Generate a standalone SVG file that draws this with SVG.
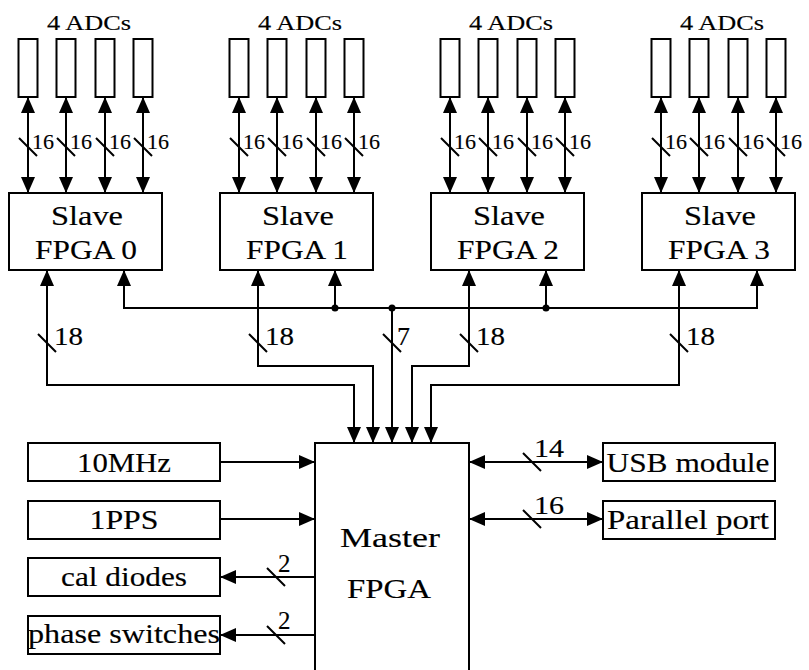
<svg xmlns="http://www.w3.org/2000/svg" width="809" height="670" viewBox="0 0 809 670">
<style>
  .box { fill: #fff; stroke: #000; stroke-width: 2; }
  .ln { fill: none; stroke: #000; stroke-width: 2; }
  .both { marker-start: url(#ah); marker-end: url(#ah); }
  .end { marker-end: url(#ah); }
  .t { font-family: "Liberation Serif", "Times New Roman", serif; fill: #000; stroke: #000; stroke-width: 0.15; }
  .big { font-size: 28px; text-anchor: middle; }
  .adc { font-size: 20px; text-anchor: middle; }
  .s16 { font-size: 22px; }
  .s18 { font-size: 26px; }
  .s2 { font-size: 25px; }
</style>
<defs>
  <marker id="ah" viewBox="0 0 16 14" refX="16" refY="7" markerWidth="16" markerHeight="14" markerUnits="userSpaceOnUse" orient="auto-start-reverse">
    <path d="M0,0 L16,7 L0,14 z" fill="#000"/>
  </marker>
</defs>
<rect width="809" height="670" fill="#fff"/>

<g id="connectors">
  <g id="adc-links">
    <path class="ln both" d="M28,97 V193"/><path class="ln both" d="M66,97 V193"/><path class="ln both" d="M105,97 V193"/><path class="ln both" d="M143,97 V193"/>
    <path class="ln both" d="M239,97 V193"/><path class="ln both" d="M277,97 V193"/><path class="ln both" d="M316,97 V193"/><path class="ln both" d="M354,97 V193"/>
    <path class="ln both" d="M450,97 V193"/><path class="ln both" d="M488,97 V193"/><path class="ln both" d="M527,97 V193"/><path class="ln both" d="M565,97 V193"/>
    <path class="ln both" d="M661,97 V193"/><path class="ln both" d="M699,97 V193"/><path class="ln both" d="M738,97 V193"/><path class="ln both" d="M776,97 V193"/>
    <path class="ln" d="M19,138 L37,156 M57,138 L75,156 M96,138 L114,156 M134,138 L152,156"/>
    <path class="ln" d="M230,138 L248,156 M268,138 L286,156 M307,138 L325,156 M345,138 L363,156"/>
    <path class="ln" d="M441,138 L459,156 M479,138 L497,156 M518,138 L536,156 M556,138 L574,156"/>
    <path class="ln" d="M652,138 L670,156 M690,138 L708,156 M729,138 L747,156 M767,138 L785,156"/>
    <text class="t s16" x="32" y="149">16</text>
    <text class="t s16" x="70" y="149">16</text>
    <text class="t s16" x="109" y="149">16</text>
    <text class="t s16" x="147" y="149">16</text>
    <text class="t s16" x="243" y="149">16</text>
    <text class="t s16" x="281" y="149">16</text>
    <text class="t s16" x="320" y="149">16</text>
    <text class="t s16" x="358" y="149">16</text>
    <text class="t s16" x="454" y="149">16</text>
    <text class="t s16" x="492" y="149">16</text>
    <text class="t s16" x="531" y="149">16</text>
    <text class="t s16" x="569" y="149">16</text>
    <text class="t s16" x="665" y="149">16</text>
    <text class="t s16" x="703" y="149">16</text>
    <text class="t s16" x="742" y="149">16</text>
    <text class="t s16" x="780" y="149">16</text>
  </g>
  <g id="bus">
    <path class="ln both" d="M124,270 V308 H757 V270"/>
    <path class="ln end" d="M335,308 V270"/>
    <path class="ln end" d="M546,308 V270"/>
    <circle cx="335" cy="308" r="3.5" fill="#000"/>
    <circle cx="392" cy="308" r="3.5" fill="#000"/>
    <circle cx="546" cy="308" r="3.5" fill="#000"/>
  </g>
  <g id="master-links">
    <path class="ln both" d="M47,270 V385 H354 V443"/>
    <path class="ln both" d="M258,270 V366 H373 V443"/>
    <path class="ln end" d="M392,308 V443"/>
    <path class="ln both" d="M469,270 V366 H412 V443"/>
    <path class="ln both" d="M679,270 V385 H431 V443"/>
    <path class="ln" d="M38,334 L56,352 M249,334 L267,352 M383,334 L401,352 M460,334 L478,352 M670,334 L688,352"/>
    <text class="t s18" x="54" y="345" textLength="29" lengthAdjust="spacingAndGlyphs">18</text>
    <text class="t s18" x="265" y="345" textLength="29" lengthAdjust="spacingAndGlyphs">18</text>
    <text class="t s18" x="397" y="345">7</text>
    <text class="t s18" x="476" y="345" textLength="29" lengthAdjust="spacingAndGlyphs">18</text>
    <text class="t s18" x="686" y="345" textLength="29" lengthAdjust="spacingAndGlyphs">18</text>
  </g>
  <g id="periph-links">
    <path class="ln end" d="M220,462 H315"/>
    <path class="ln end" d="M220,519 H315"/>
    <path class="ln end" d="M315,577 H220"/>
    <path class="ln end" d="M315,635 H220"/>
    <path class="ln both" d="M469,462 H603"/>
    <path class="ln both" d="M469,519 H603"/>
    <path class="ln" d="M267,568 L285,586 M267,626 L285,644 M523,453 L541,471 M523,510 L541,528"/>
    <text class="t s2" x="278" y="572">2</text>
    <text class="t s2" x="278" y="629">2</text>
    <text class="t s2" x="534" y="457" textLength="30" lengthAdjust="spacingAndGlyphs">14</text>
    <text class="t s2" x="534" y="514" textLength="30" lengthAdjust="spacingAndGlyphs">16</text>
  </g>
</g>

<g id="adcs0">
  <rect class="box" x="18.5" y="39" width="19" height="58"/>
  <rect class="box" x="56.5" y="39" width="19" height="58"/>
  <rect class="box" x="95.5" y="39" width="19" height="58"/>
  <rect class="box" x="133.5" y="39" width="19" height="58"/>
  <text class="t adc" x="89" y="30" textLength="84" lengthAdjust="spacingAndGlyphs">4 ADCs</text>
</g>
<g id="adcs1">
  <rect class="box" x="229.5" y="39" width="19" height="58"/>
  <rect class="box" x="267.5" y="39" width="19" height="58"/>
  <rect class="box" x="306.5" y="39" width="19" height="58"/>
  <rect class="box" x="344.5" y="39" width="19" height="58"/>
  <text class="t adc" x="300" y="30" textLength="84" lengthAdjust="spacingAndGlyphs">4 ADCs</text>
</g>
<g id="adcs2">
  <rect class="box" x="440.5" y="39" width="19" height="58"/>
  <rect class="box" x="478.5" y="39" width="19" height="58"/>
  <rect class="box" x="517.5" y="39" width="19" height="58"/>
  <rect class="box" x="555.5" y="39" width="19" height="58"/>
  <text class="t adc" x="511" y="30" textLength="84" lengthAdjust="spacingAndGlyphs">4 ADCs</text>
</g>
<g id="adcs3">
  <rect class="box" x="651.5" y="39" width="19" height="58"/>
  <rect class="box" x="689.5" y="39" width="19" height="58"/>
  <rect class="box" x="728.5" y="39" width="19" height="58"/>
  <rect class="box" x="766.5" y="39" width="19" height="58"/>
  <text class="t adc" x="722" y="30" textLength="84" lengthAdjust="spacingAndGlyphs">4 ADCs</text>
</g>

<g id="slave0">
  <rect class="box" x="9" y="193" width="153" height="77"/>
  <text class="t big" x="87" y="225" textLength="72" lengthAdjust="spacingAndGlyphs">Slave</text>
  <text class="t big" x="86" y="259" textLength="102" lengthAdjust="spacingAndGlyphs">FPGA 0</text>
</g>
<g id="slave1">
  <rect class="box" x="220" y="193" width="153" height="77"/>
  <text class="t big" x="298" y="225" textLength="72" lengthAdjust="spacingAndGlyphs">Slave</text>
  <text class="t big" x="297" y="259" textLength="102" lengthAdjust="spacingAndGlyphs">FPGA 1</text>
</g>
<g id="slave2">
  <rect class="box" x="431" y="193" width="153" height="77"/>
  <text class="t big" x="509" y="225" textLength="72" lengthAdjust="spacingAndGlyphs">Slave</text>
  <text class="t big" x="508" y="259" textLength="102" lengthAdjust="spacingAndGlyphs">FPGA 2</text>
</g>
<g id="slave3">
  <rect class="box" x="642" y="193" width="153" height="77"/>
  <text class="t big" x="720" y="225" textLength="72" lengthAdjust="spacingAndGlyphs">Slave</text>
  <text class="t big" x="719" y="259" textLength="102" lengthAdjust="spacingAndGlyphs">FPGA 3</text>
</g>

<g id="master">
  <rect class="box" x="315" y="443" width="154" height="240"/>
  <text class="t big" x="390" y="547" textLength="100" lengthAdjust="spacingAndGlyphs">Master</text>
  <text class="t big" x="389" y="598" textLength="84" lengthAdjust="spacingAndGlyphs">FPGA</text>
</g>

<g id="clk10">
  <rect class="box" x="28" y="443" width="192" height="38"/>
  <text class="t big" x="124" y="472" textLength="94" lengthAdjust="spacingAndGlyphs">10MHz</text>
</g>
<g id="pps">
  <rect class="box" x="28" y="501" width="192" height="38"/>
  <text class="t big" x="124" y="529" textLength="69" lengthAdjust="spacingAndGlyphs">1PPS</text>
</g>
<g id="cal">
  <rect class="box" x="28" y="558" width="192" height="38"/>
  <text class="t big" x="124" y="586" textLength="126" lengthAdjust="spacingAndGlyphs">cal diodes</text>
</g>
<g id="phase">
  <rect class="box" x="28" y="616" width="192" height="38"/>
  <text class="t big" x="124" y="643" textLength="192" lengthAdjust="spacingAndGlyphs">phase switches</text>
</g>
<g id="usb">
  <rect class="box" x="603" y="443" width="172" height="38"/>
  <text class="t big" x="688" y="472" textLength="163" lengthAdjust="spacingAndGlyphs">USB module</text>
</g>
<g id="parallel">
  <rect class="box" x="603" y="501" width="172" height="38"/>
  <text class="t big" x="688" y="529" textLength="162" lengthAdjust="spacingAndGlyphs">Parallel port</text>
</g>
</svg>
